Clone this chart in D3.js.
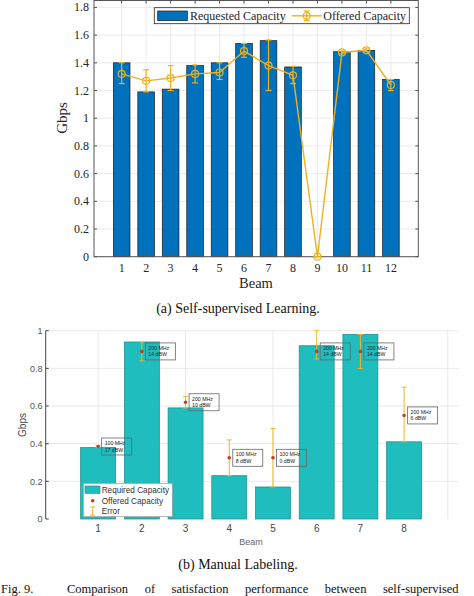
<!DOCTYPE html>
<html><head><meta charset="utf-8">
<script src="https://cdn.jsdelivr.net/npm/d3@7"></script>
<style>body{margin:0;background:#fff}svg{display:block}</style>
</head><body>
<svg id="c" width="474" height="596"></svg>
<script>
// ---------- Data: (a) Self-supervised Learning ----------
const beamsA = [1,2,3,4,5,6,7,8,9,10,11,12];
const requestedA = [1.40,1.19,1.21,1.38,1.40,1.54,1.56,1.37,0,1.48,1.49,1.28];
const offeredA   = [1.32,1.27,1.29,1.32,1.33,1.485,1.38,1.31,0,1.475,1.49,1.24];
const offeredALow  = [1.25,1.19,1.20,1.255,1.28,1.44,1.20,1.25,0,1.465,1.48,1.20];
const offeredAHigh = [1.40,1.35,1.38,1.385,1.40,1.54,1.565,1.375,0,1.485,1.50,1.28];
const yTicksA = [0,0.2,0.4,0.6,0.8,1,1.2,1.4,1.6,1.8];

// ---------- Data: (b) Manual Labeling ----------
const beamsB = [1,2,3,4,5,6,7,8];
const requiredB = [0.38,0.94,0.59,0.23,0.17,0.92,0.98,0.41];
const offeredB  = [0.385,0.89,0.62,0.325,0.325,0.89,0.89,0.55];
const errLowB   = [0.38,0.84,0.59,0.23,0.17,0.85,0.80,0.41];
const errHighB  = [0.39,0.94,0.65,0.42,0.48,1.0,0.98,0.70];
const bandwidthB = ["100 MHz","200 MHz","200 MHz","100 MHz","100 MHz","200 MHz","200 MHz","200 MHz"];
const powerB     = ["17 dBW","14 dBW","10 dBW","8 dBW","0 dBW","14 dBW","14 dBW","6 dBW"];
const yTicksB = [0,0.2,0.4,0.6,0.8,1];
const xGridB = [1,3,5,7,9];

const svg = d3.select("#c");
const serif = "'Liberation Serif','Times New Roman',serif";
const sans = "'Liberation Sans',Arial,sans-serif";

// ================= Chart A =================
(function(){
  const L=94, R=418.3, T=0.5, B=256.7;
  const x = d3.scaleLinear().domain([-0.13,13.12]).range([L,R]);
  const y = d3.scaleLinear().domain([0,1.85]).range([B,T]);
  const g = svg.append("g");
  g.selectAll(".gx").data(beamsA).join("line")
    .attr("x1",d=>x(d)).attr("x2",d=>x(d)).attr("y1",T).attr("y2",B)
    .attr("stroke","#e6e6e6").attr("stroke-width",0.8);
  g.selectAll(".gy").data(yTicksA).join("line")
    .attr("x1",L).attr("x2",R).attr("y1",d=>y(d)).attr("y2",d=>y(d))
    .attr("stroke","#e6e6e6").attr("stroke-width",0.8);
  const bw = x(0.68)-x(0);
  g.selectAll(".bar").data(beamsA).join("rect")
    .attr("x",d=>x(d)-bw/2).attr("width",bw)
    .attr("y",(d,i)=>y(requestedA[i])).attr("height",(d,i)=>y(0)-y(requestedA[i]))
    .attr("fill","#0072BD").attr("stroke","#1a1a1a").attr("stroke-width",0.7);
  g.append("rect").attr("x",L).attr("y",T).attr("width",R-L).attr("height",B-T)
    .attr("fill","none").attr("stroke","#555").attr("stroke-width",1);
  const tk=3;
  g.selectAll(".tb").data(beamsA).join("line")
    .attr("x1",d=>x(d)).attr("x2",d=>x(d)).attr("y1",B).attr("y2",B-tk).attr("stroke","#555");
  g.selectAll(".tt").data(beamsA).join("line")
    .attr("x1",d=>x(d)).attr("x2",d=>x(d)).attr("y1",T).attr("y2",T+tk).attr("stroke","#555");
  g.selectAll(".tl").data(yTicksA).join("line")
    .attr("x1",L).attr("x2",L+tk).attr("y1",d=>y(d)).attr("y2",d=>y(d)).attr("stroke","#555");
  g.selectAll(".tr").data(yTicksA).join("line")
    .attr("x1",R).attr("x2",R-tk).attr("y1",d=>y(d)).attr("y2",d=>y(d)).attr("stroke","#555");
  g.selectAll(".xl").data(beamsA).join("text")
    .attr("x",d=>x(d)).attr("y",272).attr("text-anchor","middle")
    .attr("font-family",serif).attr("font-size",12).attr("fill","#262626").text(d=>d);
  g.selectAll(".yl").data(yTicksA).join("text")
    .attr("x",89).attr("y",d=>y(d)+4).attr("text-anchor","end")
    .attr("font-family",serif).attr("font-size",12).attr("fill","#262626").text(d=>d3.format("")(+d.toFixed(1)));
  g.append("text").attr("x",256).attr("y",288).attr("text-anchor","middle")
    .attr("font-family",serif).attr("font-size",14.5).attr("fill","#262626").text("Beam");
  g.append("text").attr("transform","translate(67,118) rotate(-90)").attr("text-anchor","middle")
    .attr("font-family",serif).attr("font-size",15).attr("fill","#262626").text("Gbps");
  const col="#EDB120";
  const pts = beamsA.map((b,i)=>[x(b),y(offeredA[i])]);
  g.append("path").attr("d",d3.line()(pts)).attr("fill","none").attr("stroke",col).attr("stroke-width",1.4);
  const cw=3;
  beamsA.forEach((b,i)=>{
    const xx=x(b);
    g.append("line").attr("x1",xx).attr("x2",xx).attr("y1",y(offeredALow[i])).attr("y2",y(offeredAHigh[i])).attr("stroke",col).attr("stroke-width",1.2);
    [offeredALow[i],offeredAHigh[i]].forEach(v=>{
      g.append("line").attr("x1",xx-cw).attr("x2",xx+cw).attr("y1",y(v)).attr("y2",y(v)).attr("stroke",col).attr("stroke-width",1.2);
    });
    g.append("circle").attr("cx",xx).attr("cy",y(offeredA[i])).attr("r",3.5)
      .attr("fill","none").attr("stroke",col).attr("stroke-width",1.2);
  });
  const lg = svg.append("g");
  lg.append("rect").attr("x",154.3).attr("y",7.7).attr("width",255).attr("height",16)
    .attr("fill","#fff").attr("stroke","#262626").attr("stroke-width",0.8);
  lg.append("rect").attr("x",157.7).attr("y",11).attr("width",29.6).attr("height",9.7)
    .attr("fill","#0072BD").attr("stroke","#1a1a1a").attr("stroke-width",0.7);
  lg.append("text").attr("x",190).attr("y",20).attr("font-family",serif).attr("font-size",12)
    .attr("fill","#262626").text("Requested Capacity");
  lg.append("line").attr("x1",291.7).attr("x2",321.7).attr("y1",15.8).attr("y2",15.8).attr("stroke",col).attr("stroke-width",1.4);
  lg.append("line").attr("x1",306.7).attr("x2",306.7).attr("y1",11).attr("y2",20.6).attr("stroke",col).attr("stroke-width",1.2);
  [11,20.6].forEach(v=>lg.append("line").attr("x1",303.7).attr("x2",309.7).attr("y1",v).attr("y2",v).attr("stroke",col).attr("stroke-width",1.2));
  lg.append("circle").attr("cx",306.7).attr("cy",15.8).attr("r",3.5).attr("fill","none").attr("stroke",col).attr("stroke-width",1.2);
  lg.append("text").attr("x",323.3).attr("y",20).attr("font-family",serif).attr("font-size",12)
    .attr("fill","#262626").text("Offered Capacity");
})();

svg.append("text").attr("x",238).attr("y",313).attr("text-anchor","middle")
  .attr("font-family",serif).attr("font-size",14).attr("fill","#111").text("(a)  Self-supervised Learning.");

// ================= Chart B =================
(function(){
  const L=45.7, R=458.3, T=330.7, B=519;
  const x = d3.scaleLinear().domain([-0.2,9.24]).range([L,R]);
  const y = d3.scaleLinear().domain([0,1]).range([B,T]);
  const g = svg.append("g");
  g.selectAll(".gx").data(xGridB).join("line")
    .attr("x1",d=>x(d)).attr("x2",d=>x(d)).attr("y1",T).attr("y2",B)
    .attr("stroke","#e3e3e3").attr("stroke-width",0.8);
  g.selectAll(".gy").data(yTicksB.slice(1)).join("line")
    .attr("x1",L).attr("x2",R).attr("y1",d=>y(d)).attr("y2",d=>y(d))
    .attr("stroke","#e3e3e3").attr("stroke-width",0.8);
  const bw = x(0.8)-x(0);
  g.selectAll(".bar").data(beamsB).join("rect")
    .attr("x",d=>x(d)-bw/2).attr("width",bw)
    .attr("y",(d,i)=>y(requiredB[i])).attr("height",(d,i)=>y(0)-y(requiredB[i]))
    .attr("fill","#1FBDBD").attr("stroke","#168a8a").attr("stroke-width",0.7);
  g.append("line").attr("x1",L).attr("x2",L).attr("y1",T).attr("y2",B).attr("stroke","#444").attr("stroke-width",1);
  g.selectAll(".tl").data(yTicksB).join("line")
    .attr("x1",L).attr("x2",L+3).attr("y1",d=>y(d)).attr("y2",d=>y(d)).attr("stroke","#444");
  g.selectAll(".yl").data(yTicksB).join("text")
    .attr("x",42.5).attr("y",d=>y(d)+3.3).attr("text-anchor","end")
    .attr("font-family",sans).attr("font-size",9).attr("fill","#555").text(d=>d);
  g.selectAll(".xl").data(beamsB).join("text")
    .attr("x",d=>x(d)).attr("y",531.5).attr("text-anchor","middle")
    .attr("font-family",sans).attr("font-size",10).attr("fill","#444").text(d=>d);
  g.append("text").attr("x",251).attr("y",545).attr("text-anchor","middle")
    .attr("font-family",sans).attr("font-size",9).attr("fill","#666").text("Beam");
  g.append("text").attr("transform","translate(26,425) rotate(-90)").attr("text-anchor","middle")
    .attr("font-family",sans).attr("font-size",10).attr("fill","#444").text("Gbps");
  const ec="#F2B42A", pc="#C0401E";
  beamsB.forEach((b,i)=>{
    const xx=x(b);
    g.append("line").attr("x1",xx).attr("x2",xx).attr("y1",y(errLowB[i])).attr("y2",y(errHighB[i])).attr("stroke",ec).attr("stroke-width",1);
    [errLowB[i],errHighB[i]].forEach(v=>g.append("line").attr("x1",xx-2.5).attr("x2",xx+2.5).attr("y1",y(v)).attr("y2",y(v)).attr("stroke",ec).attr("stroke-width",1));
    g.append("circle").attr("cx",xx).attr("cy",y(offeredB[i])).attr("r",1.8).attr("fill",pc);
    const bx=xx+3.5, by=y(offeredB[i])-8.5;
    g.append("rect").attr("x",bx).attr("y",by).attr("width",30).attr("height",17)
      .attr("fill","none").attr("stroke","#666").attr("stroke-width",0.8);
    g.append("text").attr("x",bx+3).attr("y",by+7).attr("font-family",sans).attr("font-size",5.2)
      .attr("fill","#222").text(bandwidthB[i]);
    g.append("text").attr("x",bx+3).attr("y",by+13.5).attr("font-family",sans).attr("font-size",5.2)
      .attr("fill","#222").text(powerB[i]);
  });
  const lg=svg.append("g");
  lg.append("rect").attr("x",83.3).attr("y",483.3).attr("width",89).attr("height",33.4)
    .attr("fill","#fff").attr("stroke","#999").attr("stroke-width",0.7);
  lg.append("rect").attr("x",85).attr("y",486).attr("width",15).attr("height",7.3)
    .attr("fill","#1FBDBD").attr("stroke","#168a8a").attr("stroke-width",0.6);
  lg.append("text").attr("x",101.7).attr("y",493.2).attr("font-family",sans).attr("font-size",8.2).attr("fill","#333").text("Required Capacity");
  lg.append("circle").attr("cx",92.7).attr("cy",500.7).attr("r",1.8).attr("fill",pc);
  lg.append("text").attr("x",101.7).attr("y",503.6).attr("font-family",sans).attr("font-size",8.2).attr("fill","#333").text("Offered Capacity");
  lg.append("line").attr("x1",92.7).attr("x2",92.7).attr("y1",507).attr("y2",515).attr("stroke",ec).attr("stroke-width",1);
  [507,515].forEach(v=>lg.append("line").attr("x1",90.2).attr("x2",95.2).attr("y1",v).attr("y2",v).attr("stroke",ec).attr("stroke-width",1));
  lg.append("text").attr("x",101.7).attr("y",514).attr("font-family",sans).attr("font-size",8.2).attr("fill","#333").text("Error");
})();

svg.append("text").attr("x",238).attr("y",569).attr("text-anchor","middle")
  .attr("font-family",serif).attr("font-size",14).attr("fill","#111").text("(b)  Manual Labeling.");
svg.append("text").attr("x",1).attr("y",592.5).attr("font-family",serif).attr("font-size",12.5)
  .attr("fill","#111").text("Fig. 9.");
const fig = svg.append("text").attr("x",67).attr("y",592.5).attr("font-family",serif).attr("font-size",12.5)
  .attr("fill","#111").text("Comparison of satisfaction performance between self-supervised");
const natural = fig.node().getComputedTextLength();
const gaps = 6;
fig.attr("word-spacing", Math.max(0,(405-natural)/gaps));
</script>
</body></html>
